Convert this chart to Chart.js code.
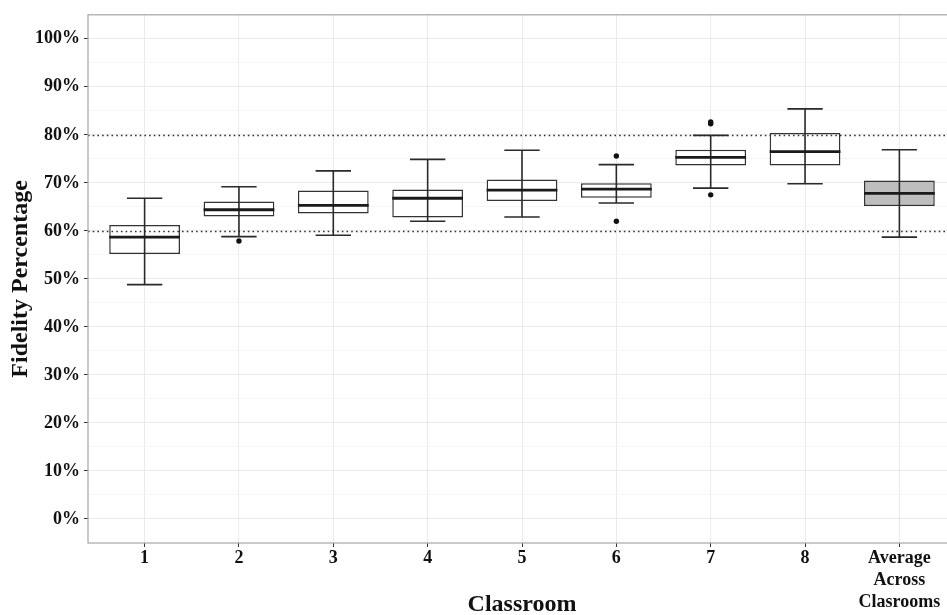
<!DOCTYPE html>
<html>
<head>
<meta charset="utf-8">
<script src="https://cdn.jsdelivr.net/npm/chart.js@4.4.0/dist/chart.umd.min.js"></script>
<style>
html, body { margin: 0; padding: 0; background: #fff; overflow: hidden; }
#wrap { width: 960px; height: 615px; }
</style>
</head>
<body>
<div id="wrap"><canvas id="fidelityChart" width="960" height="615"></canvas></div>
<script>
// Box plot values (percent)
const classrooms = ['1', '2', '3', '4', '5', '6', '7', '8', ['Average', 'Across', 'Clasrooms']];
const whiskerLow  = [48.8, 58.8, 59.1, 62.0, 62.9, 65.8, 68.9, 69.8, 58.7];
const quartile1   = [55.2, 63.0, 63.6, 62.8, 66.2, 66.9, 73.6, 73.6, 65.2];
const medians     = [58.7, 64.4, 65.3, 66.8, 68.5, 68.7, 75.3, 76.5, 67.8];
const quartile3   = [61.2, 66.1, 68.4, 68.6, 70.7, 69.9, 76.9, 80.4, 70.5];
const whiskerHigh = [66.8, 69.2, 72.5, 74.9, 76.8, 73.8, 79.9, 85.4, 76.9];

// outlier points: classroom number and value
const outlierRoom  = [2, 6, 6, 7, 7, 7];
const outlierValue = [57.9, 75.6, 62.0, 82.3, 82.7, 67.5];

// dotted reference lines
const referenceLines = [60, 80];

// y axis ticks
const majorTicks = [0, 10, 20, 30, 40, 50, 60, 70, 80, 90, 100];
const minorTicks = [5, 15, 25, 35, 45, 55, 65, 75, 85, 95];
const yTickLabels = majorTicks.map(v => v + '%');

const serif = "'Liberation Serif', 'Times New Roman', serif";
const boxFill = classrooms.map((_, i) => i === classrooms.length - 1 ? '#bebebe' : '#ffffff');

const boxExtras = {
    id: 'boxExtras',
    afterDatasetsDraw(chart) {
        const { ctx, chartArea, scales: { x, y } } = chart;
        const bars = chart.getDatasetMeta(0).data;
        ctx.save();

        // reference lines
        ctx.strokeStyle = '#333';
        ctx.lineWidth = 1.6;
        ctx.setLineDash([1.6, 3.1]);
        referenceLines.forEach(v => {
            const py = Math.round(y.getPixelForValue(v)) + 0.5;
            ctx.beginPath();
            ctx.moveTo(chartArea.left, py);
            ctx.lineTo(chartArea.right, py);
            ctx.stroke();
        });
        ctx.setLineDash([]);

        // whiskers
        ctx.strokeStyle = '#2a2a2a';
        ctx.lineWidth = 1.6;
        bars.forEach((bar, i) => {
            const cx = x.getPixelForValue(i + 1);
            const capHalf = bar.width * 0.25;
            const yLo = y.getPixelForValue(whiskerLow[i]);
            const yHi = y.getPixelForValue(whiskerHigh[i]);
            ctx.beginPath();
            ctx.moveTo(cx, yLo);
            ctx.lineTo(cx, yHi);
            ctx.moveTo(cx - capHalf, yLo);
            ctx.lineTo(cx + capHalf, yLo);
            ctx.moveTo(cx - capHalf, yHi);
            ctx.lineTo(cx + capHalf, yHi);
            ctx.stroke();
        });

        // medians
        ctx.strokeStyle = '#1a1a1a';
        ctx.lineWidth = 2.8;
        bars.forEach((bar, i) => {
            const cx = x.getPixelForValue(i + 1);
            const half = bar.width / 2;
            const ym = y.getPixelForValue(medians[i]);
            ctx.beginPath();
            ctx.moveTo(cx - half, ym);
            ctx.lineTo(cx + half, ym);
            ctx.stroke();
        });
        ctx.restore();
    },
    afterDraw(chart) {
        const { ctx, chartArea } = chart;
        ctx.save();
        ctx.strokeStyle = '#a6a6a6';
        ctx.lineWidth = 1.2;
        ctx.strokeRect(chartArea.left, chartArea.top, chartArea.right - chartArea.left, chartArea.bottom - chartArea.top);
        ctx.restore();
    }
};

new Chart(document.getElementById('fidelityChart'), {
    type: 'bar',
    data: {
        datasets: [
            {
                label: 'IQR',
                data: classrooms.map((_, i) => ({ x: i + 1, y: [quartile1[i], quartile3[i]] })),
                backgroundColor: boxFill,
                borderColor: '#333',
                borderWidth: 1.5,
                borderSkipped: false,
                barPercentage: 0.75,
                categoryPercentage: 1
            },
            {
                type: 'scatter',
                label: 'Outliers',
                data: outlierRoom.map((r, i) => ({ x: r, y: outlierValue[i] })),
                backgroundColor: '#111',
                borderWidth: 0,
                pointRadius: 2.7
            }
        ]
    },
    options: {
        responsive: false,
        animation: false,
        layout: { padding: { top: 13, right: 4, left: 0, bottom: 0 } },
        plugins: {
            legend: { display: false },
            tooltip: { enabled: false }
        },
        scales: {
            x: {
                type: 'linear',
                min: 0.4,
                max: 9.6,
                offset: false,
                afterBuildTicks: s => { s.ticks = classrooms.map((_, i) => ({ value: i + 1 })); },
                afterFit: s => { s.height = 72; },
                grid: { offset: false, color: '#ebebeb', tickColor: '#333', tickLength: 4, lineWidth: 1 },
                border: { display: false },
                ticks: {
                    autoSkip: false,
                    maxRotation: 0,
                    padding: 1,
                    color: '#111',
                    font: { family: serif, size: 18, weight: 'bold' },
                    callback: v => classrooms[Math.round(v) - 1] ?? ''
                },
                title: {
                    display: true,
                    text: 'Classroom',
                    color: '#111',
                    font: { family: serif, size: 24, weight: 'bold', lineHeight: 1 },
                    padding: { top: 0, bottom: -2 }
                }
            },
            y: {
                min: -5,
                max: 105,
                afterBuildTicks: s => {
                    s.ticks = majorTicks.concat(minorTicks).sort((a, b) => a - b).map(v => ({ value: v }));
                },
                afterFit: s => { s.width = 88; },
                grid: {
                    color: c => (c.tick && c.tick.value % 10 === 0) ? '#ebebeb' : '#f5f5f5',
                    tickColor: c => (c.tick && c.tick.value % 10 === 0) ? '#333' : 'rgba(0,0,0,0)',
                    tickLength: 4,
                    lineWidth: 1
                },
                border: { display: false },
                ticks: {
                    autoSkip: false,
                    padding: 4,
                    color: '#111',
                    font: { family: serif, size: 18, weight: 'bold' },
                    callback: v => {
                        const k = majorTicks.indexOf(v);
                        return k >= 0 ? yTickLabels[k] : '';
                    }
                },
                title: {
                    display: true,
                    text: 'Fidelity Percentage',
                    color: '#111',
                    font: { family: serif, size: 24, weight: 'bold', lineHeight: 1.2 },
                    padding: { top: 6, bottom: 0 }
                }
            }
        }
    },
    plugins: [boxExtras]
});
</script>
</body>
</html>
